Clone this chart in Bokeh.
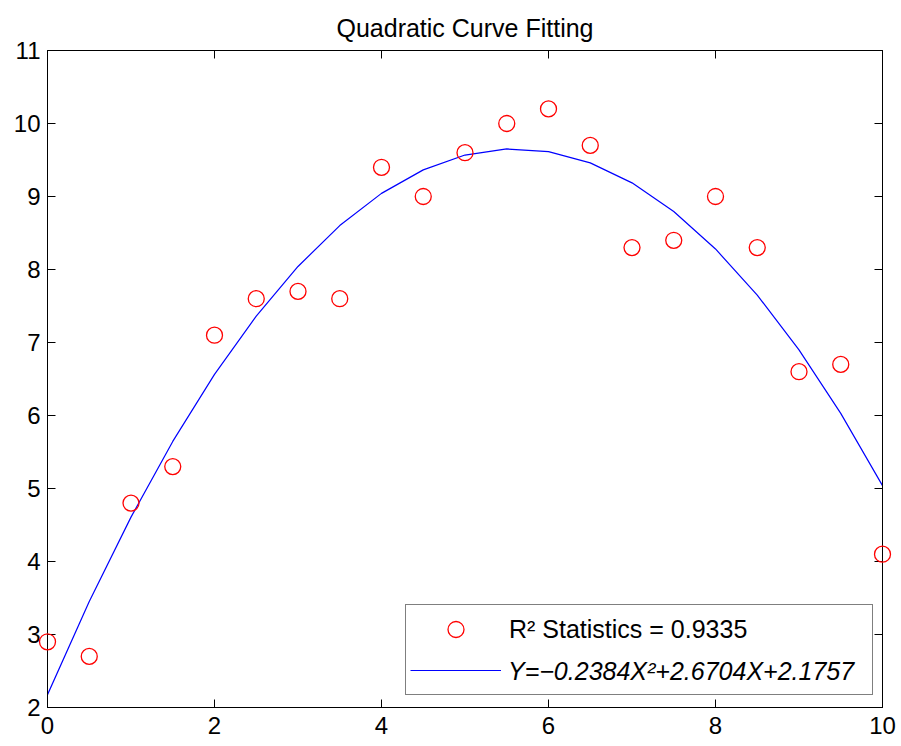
from bokeh.plotting import figure
from bokeh.models import (LinearAxis, Range1d, FixedTicker, Legend, LegendItem,
                          CustomJSTickFormatter)
from bokeh.embed import file_html
from bokeh.resources import INLINE

# ---- data ----
x_data = [0, 0.5, 1, 1.5, 2, 2.5, 3, 3.5, 4, 4.5, 5, 5.5, 6, 6.5, 7, 7.5, 8, 8.5, 9, 9.5, 10]
y_data = [2.9, 2.7, 4.8, 5.3, 7.1, 7.6, 7.7, 7.6, 9.4, 9.0, 9.6, 10.0, 10.2, 9.7,
          8.3, 8.4, 9.0, 8.3, 6.6, 6.7, 4.1]
x_fit = [0, 0.5, 1, 1.5, 2, 2.5, 3, 3.5, 4, 4.5, 5, 5.5, 6, 6.5, 7, 7.5, 8, 8.5, 9, 9.5, 10]
y_fit = [2.1757, 3.4513, 4.6077, 5.6449, 6.5629, 7.3617, 8.0413, 8.6017, 9.0429, 9.3649,
         9.5677, 9.6513, 9.6157, 9.4609, 9.1869, 8.7937, 8.2813, 7.6497, 6.8989, 6.0289, 5.0397]
x_ticks = [0, 2, 4, 6, 8, 10]
y_ticks = [2, 3, 4, 5, 6, 7, 8, 9, 10, 11]
title_text = "Quadratic Curve Fitting"
label_points = "R\u00b2 Statistics = 0.9335"
label_fit = "Y=\u22120.2384X\u00b2+2.6704X+2.1757"

FONT = "Liberation Sans"

p = figure(frame_width=835, frame_height=657,
           x_range=Range1d(0, 10), y_range=Range1d(2, 11),
           output_backend="svg", toolbar_location=None,
           min_border_left=47, min_border_top=50, min_border_right=16, min_border_bottom=36,
           background_fill_color="white", border_fill_color="white")

p.title.text = title_text
p.title.align = "center"
p.title.vertical_align = "top"
p.title.text_font = FONT
p.title.text_font_size = "25px"
p.title.text_font_style = "normal"
p.title.text_color = "black"
p.title.text_line_height = 0.75
p.title.standoff = 14

p.grid.visible = False
p.outline_line_color = "black"
p.outline_line_width = 1

bottom_axis = p.below[0]
left_axis = p.left[0]
top_axis = LinearAxis()
right_axis = LinearAxis()
p.add_layout(top_axis, "above")
p.add_layout(right_axis, "right")

for ax in [bottom_axis, top_axis]:
    ax.ticker = FixedTicker(ticks=x_ticks)
for ax in [left_axis, right_axis]:
    ax.ticker = FixedTicker(ticks=y_ticks)

for ax in [bottom_axis, left_axis, top_axis, right_axis]:
    ax.axis_line_color = "black"
    ax.axis_line_width = 1
    ax.major_tick_line_color = "black"
    ax.major_tick_line_width = 1
    ax.major_tick_in = 8
    ax.major_tick_out = 0
    ax.minor_tick_line_color = None
    ax.major_label_text_font = FONT
    ax.major_label_text_font_size = "24px"
    ax.major_label_text_color = "black"

bottom_axis.major_label_standoff = 9
left_axis.major_label_standoff = 7
for ax in [top_axis, right_axis]:
    ax.formatter = CustomJSTickFormatter(code="return ''")
    ax.major_label_text_font_size = "0px"
    ax.major_label_standoff = 0
    ax.axis_label_standoff = 0

fit_r = p.line(x_fit, y_fit, line_color="#0000FF", line_width=1.2)
pts_r = p.scatter(x_data, y_data, marker="circle", size=16, fill_color=None,
                  line_color="#FF0000", line_width=1.3, level="overlay")
ghost_r = p.scatter(x=[], y=[], marker="circle", size=1, fill_alpha=0, line_alpha=0)

common = dict(location=(358, 12), padding=4, spacing=1, margin=0,
              glyph_width=91, glyph_height=40, label_height=40, label_width=359,
              label_standoff=8, label_text_font=FONT, label_text_font_size="25px",
              label_text_color="black")

leg1 = Legend(items=[LegendItem(label=label_points, renderers=[pts_r]),
                     LegendItem(label="\u00a0", renderers=[fit_r])],
              border_line_color="black", border_line_width=1,
              background_fill_color="white", background_fill_alpha=1.0, **common)
leg2 = Legend(items=[LegendItem(label=label_fit, renderers=[ghost_r])],
              border_line_alpha=0, background_fill_alpha=0,
              label_text_font_style="italic", **common)
p.add_layout(leg1, "center")
p.add_layout(leg2, "center")

open("out.html", "w").write(file_html(p, INLINE))
